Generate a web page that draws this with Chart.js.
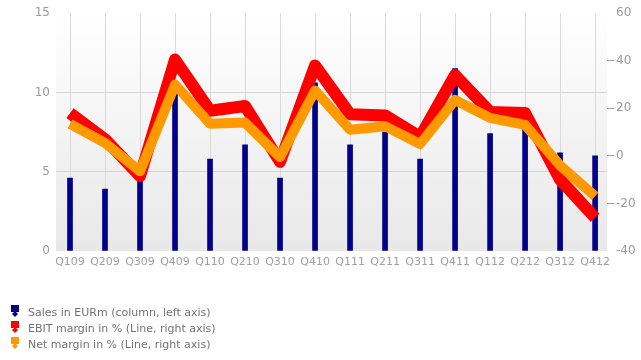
<!DOCTYPE html>
<html>
<head>
<meta charset="utf-8">
<script src="https://cdn.jsdelivr.net/npm/chart.js@4.4.1/dist/chart.umd.min.js"></script>
<style>
  html, body { margin: 0; padding: 0; background: #ffffff; }
  #wrap { position: relative; width: 641px; height: 360px; }
</style>
</head>
<body>
<div id="wrap"><canvas id="chart"></canvas></div>
<script>
// Quarterly figures
const quarters = ['Q109','Q209','Q309','Q409','Q110','Q210','Q310','Q410',
                  'Q111','Q211','Q311','Q411','Q112','Q212','Q312','Q412'];
const salesEURm = [4.6, 3.9, 4.8, 9.9, 5.8, 6.7, 4.6, 10.6, 6.7, 7.5, 5.8, 11.5, 7.4, 8.4, 6.2, 6.0];
const ebitMargin = [18, 7, -8.5, 40.5, 19, 21, -2.5, 38, 17.5, 17, 8, 34, 18.5, 18, -10, -26];
const netMargin = [13.5, 5.5, -6.5, 30, 13.5, 14, -0.5, 27.5, 11, 12.5, 5, 23.5, 16, 13, -4, -17];

const leftTicks = [0, 5, 10, 15];
const rightTicks = [-40, -20, 0, 20, 40, 60];

const seriesNames = [
  'Sales in EURm (column, left axis)',
  'EBIT margin in % (Line, right axis)',
  'Net margin in % (Line, right axis)'
];

const toPoints = arr => arr.map((v, i) => ({ x: i, y: v }));

// Soft vertical gradient behind the plot
const plotBackdrop = {
  id: 'plotBackdrop',
  beforeDraw(chart) {
    const { ctx, chartArea: a } = chart;
    const g = ctx.createLinearGradient(0, a.top, 0, a.bottom);
    g.addColorStop(0, '#ffffff');
    g.addColorStop(1, '#e8e8e8');
    ctx.save();
    ctx.fillStyle = g;
    ctx.fillRect(a.left, a.top, a.right - a.left, a.bottom - a.top);
    ctx.restore();
  }
};

// Stacked legend in the lower-left corner
const sideLegend = {
  id: 'sideLegend',
  afterDraw(chart) {
    const { ctx } = chart;
    ctx.save();
    ctx.font = '11px "DejaVu Sans"';
    ctx.textBaseline = 'middle';
    chart.data.datasets.forEach((ds, i) => {
      const cy = 313.5 + i * 16;
      const col = ds.legendColor;
      ctx.fillStyle = col;
      ctx.fillRect(11, cy - 8.5, 8, 7);
      ctx.beginPath();
      ctx.moveTo(15, cy - 2.5);
      ctx.lineTo(18, cy + 0.5);
      ctx.lineTo(15, cy + 3.5);
      ctx.lineTo(12, cy + 0.5);
      ctx.closePath();
      ctx.fill();
      ctx.fillStyle = '#727272';
      ctx.fillText(ds.label, 28, cy);
    });
    ctx.restore();
  }
};

const tickFont = { family: 'DejaVu Sans', size: 12 };
const catFont = { family: 'DejaVu Sans', size: 11 };

new Chart(document.getElementById('chart'), {
  data: {
    datasets: [
      {
        type: 'bar',
        label: seriesNames[0],
        data: toPoints(salesEURm),
        backgroundColor: '#00008a',
        legendColor: '#00008a',
        barThickness: 5,
        yAxisID: 'yLeft',
        order: 3
      },
      {
        type: 'line',
        label: seriesNames[1],
        data: toPoints(ebitMargin),
        borderColor: '#ff0000',
        legendColor: '#ff0000',
        borderWidth: 12,
        borderJoinStyle: 'round',
        borderCapStyle: 'butt',
        pointRadius: 0,
        tension: 0,
        yAxisID: 'yRight',
        order: 2
      },
      {
        type: 'line',
        label: seriesNames[2],
        data: toPoints(netMargin),
        borderColor: '#ff9900',
        legendColor: '#ff9900',
        borderWidth: 10,
        borderJoinStyle: 'round',
        borderCapStyle: 'butt',
        pointRadius: 0,
        tension: 0,
        yAxisID: 'yRight',
        order: 1
      }
    ]
  },
  options: {
    responsive: true,
    maintainAspectRatio: false,
    animation: false,
    events: [],
    layout: { padding: { top: 11, bottom: 89, left: 0, right: 0 } },
    plugins: {
      legend: { display: false },
      tooltip: { enabled: false }
    },
    scales: {
      x: {
        type: 'linear',
        offset: false,
        min: -0.4,
        max: 15.34,
        afterBuildTicks(s) { s.ticks = quarters.map((_, i) => ({ value: i })); },
        afterFit(s) { s.height = 20; },
        grid: { color: '#d9d9d9', drawTicks: false, offset: false },
        border: { display: false },
        ticks: {
          font: catFont,
          color: '#a0a0a0',
          padding: 5,
          maxRotation: 0,
          autoSkip: false,
          callback: v => quarters[v]
        }
      },
      yLeft: {
        type: 'linear',
        position: 'left',
        min: 0,
        max: 15,
        afterBuildTicks(s) { s.ticks = leftTicks.map(v => ({ value: v })); },
        afterFit(s) { s.width = 56; },
        grid: {
          drawTicks: false,
          color: c => (c.tick && (c.tick.value === 5 || c.tick.value === 10)) ? '#d4d4d4' : 'rgba(0,0,0,0)'
        },
        border: { display: false },
        ticks: { font: tickFont, color: '#9a9a9a', padding: 6 }
      },
      yRight: {
        type: 'linear',
        position: 'right',
        min: -40,
        max: 60,
        afterBuildTicks(s) { s.ticks = rightTicks.map(v => ({ value: v })); },
        afterFit(s) { s.width = 34; },
        grid: {
          drawOnChartArea: false,
          drawTicks: true,
          tickLength: 7,
          color: c => (c.tick && (c.tick.value === 60 || c.tick.value === -40)) ? 'rgba(0,0,0,0)' : '#a0a0a0'
        },
        border: { display: false },
        ticks: { font: tickFont, color: '#9a9a9a', padding: 2 }
      }
    }
  },
  plugins: [plotBackdrop, sideLegend]
});
</script>
</body>
</html>
